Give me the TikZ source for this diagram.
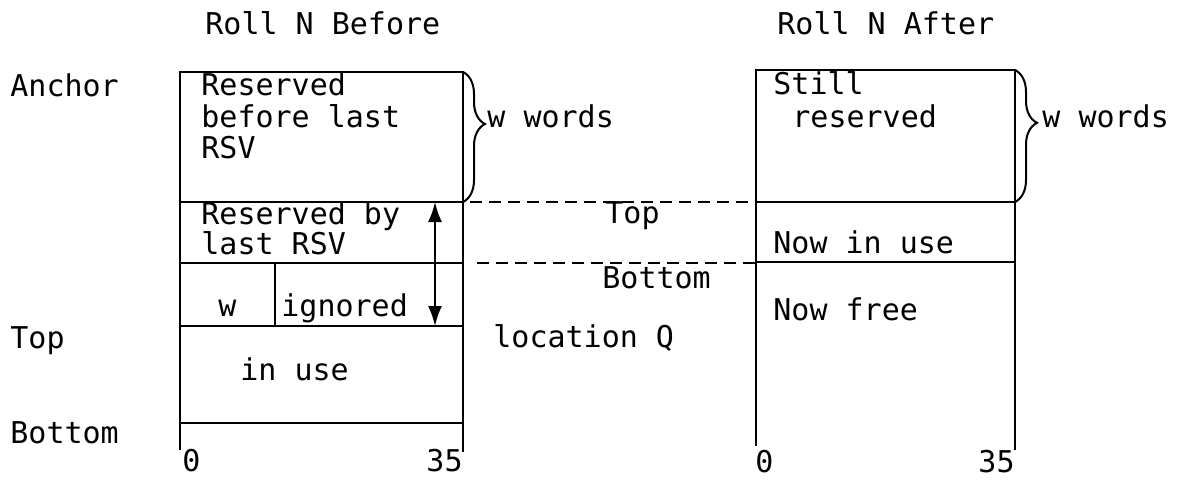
\documentclass[tikz,border=0pt]{standalone}
\usepackage{fontspec}
\setmainfont{DejaVu Sans Mono}
\usetikzlibrary{arrows.meta, decorations.pathreplacing}

\begin{document}
\begin{tikzpicture}[
    % GLOBAL CFG
    x=0.5pt, y=-0.5pt,
    font=\fontsize{15}{17}\selectfont,
    >={Latex[length=10pt,width=7pt]},
    % Styles
    roll/.style={% For the word boxes
        line width=1.3pt,
        },
    txt/.style={% Texts set on their base line
        anchor=base west,
        inner sep=0pt,
        },
    rtxt/.style={% Texts ending at a point
        anchor=base east,
        inner sep=0pt,
        },
    wbrace/.style={% Braces for w words
        decorate,
        decoration={brace, amplitude=11pt, aspect=0.4},
        line width=1pt,
        },
    guide/.style={% Dashed guide lines
        dash pattern=on 6pt off 3.5pt,
        line width=0.7pt,
        },
    ]
\useasboundingbox (0,0) rectangle (1189,481);

%Start drawing the thing...
    % Corners of the rolls
    \coordinate (bNW) at (180,72);
    \coordinate (bNE) at (463,72);
    \coordinate (aNW) at (756,70);
    \coordinate (aNE) at (1015,70);

    % Roll N Before
    \draw [roll] (180,450) -- (bNW) -- (bNE) -- (463,452);
    \draw [roll] (180,202) -- (463,202);
    \draw [roll] (180,263) -- (463,263);
    \draw [roll] (180,326) -- (463,326);
    \draw [roll] (180,423) -- (463,423);
    \draw [roll] (275,263) -- (275,326);

    % Roll N After
    \draw [roll] (756,446) -- (aNW) -- (aNE) -- (1015,450);
    \draw [roll] (756,202) -- (1015,202);
    \draw [roll] (756,262) -- (1015,262);

    % Headings
    \node [txt] (hbefore) at (205,35) {Roll N Before};
    \node [txt] (hafter)  at (777,35) {Roll N After};

    % Labels at the left
    \node [txt] (anchor) at (10,97)  {Anchor};
    \node [txt] (ltop)   at (10,348) {Top};
    \node [txt] (lbot)   at (10,443) {Bottom};

    % Cells of Roll N Before
    \node [txt] (res1) at (201,96)  {Reserved};
    \node [txt] (res2) at (201,127) {before last};
    \node [txt] (res3) at (201,158) {RSV};
    \node [txt] (rsv1) at (201,224) {Reserved by};
    \node [txt] (rsv2) at (201,254) {last RSV};
    \node [txt] (wcell) at (218,316) {w};
    \node [txt] (ign)   at (281,316) {ignored};
    \node [txt] (use)   at (240,380) {in use};
    \node [txt]  (bzero) at (182,471) {0};
    \node [rtxt] (bend)  at (463,471) {35};

    % Cells of Roll N After
    \node [txt] (still1) at (773,95)  {Still};
    \node [txt] (still2) at (792,128) {reserved};
    \node [txt] (nowuse) at (773,253) {Now in use};
    \node [txt] (nowfree) at (773,320) {Now free};
    \node [txt]  (azero) at (755,472) {0};
    \node [rtxt] (aend)  at (1015,472) {35};

    % Between the rolls
    \node [txt] (mtop) at (605,223) {Top};
    \node [txt] (mbot) at (602,288) {Bottom};
    \node [txt] (locq) at (493,347) {location Q};

    % Braces
    \draw [wbrace] (bNE) -- (463,202);
    \draw [wbrace] (aNE) -- (1015,202);
    \node [txt] (wwb) at (487,128)  {w words};
    \node [txt] (wwa) at (1042,128) {w words};

    % Arrow over the reserved words
    \coordinate (qtop) at (435,202);
    \coordinate (qbot) at (435,326);
    \draw [<->, line width=1pt] (qtop) -- (qbot);

    % Dashed guides
    \coordinate (gtop) at (470,202);
    \coordinate (gbot) at (477,263);
    \draw [guide] (gtop) -- (aNW |- gtop);
    \draw [guide] (gbot) -- (aNW |- gbot);

\end{tikzpicture}
\end{document}
